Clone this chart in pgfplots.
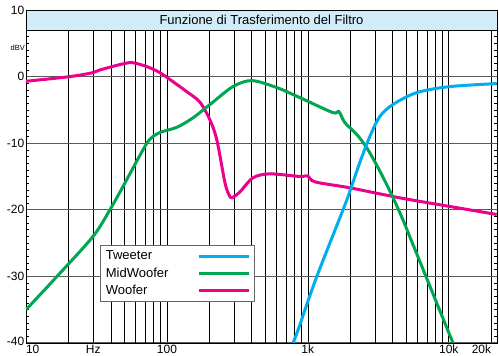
\documentclass[border=0pt]{standalone}
\usepackage{fontspec}
\setmainfont{Liberation Sans}
\usepackage{pgfplots}
\pgfplotsset{compat=1.18}
\definecolor{tw}{RGB}{0,174,239}
\definecolor{mw}{RGB}{0,166,81}
\definecolor{wf}{RGB}{236,0,140}
\definecolor{titlebg}{RGB}{211,236,249}
\begin{document}
\begin{tikzpicture}
\begin{axis}[
  at={(0,0)}, anchor=south west,
  width=471bp, height=333bp, scale only axis,
  xmode=log, log basis x=10,
  xmin=10, xmax=22000, ymin=-40, ymax=10,
  xtick={10,30,100,1000,10000,20000},
  xticklabels={\makebox[0pt][l]{10},Hz,100,1k,10k,\makebox[0pt][r]{20k}},
  minor xtick={20,40,50,60,70,80,90,200,300,400,500,600,700,800,900,
    2000,3000,4000,5000,6000,7000,8000,9000},
  ytick={-40,-30,-20,-10,0,10},
  yticklabels={\raisebox{3bp}{-40},-30,-20,-10,0,\raisebox{-4bp}{10}},
  minor y tick num=9,
  xtick pos=bottom,
  major tick length=0pt, minor tick length=3bp,
  tick align=inside,
  xmajorgrids, xminorgrids, ymajorgrids,
  major x grid style={black, line width=0.6bp},
  minor x grid style={black, line width=0.6bp},
  major y grid style={black!65, line width=1bp},
  axis line style={black, line width=0.9bp},
  tick style={black, line width=0.6bp},
  ticklabel style={font=\fontsize{12bp}{14bp}\selectfont},
  xticklabel style={inner sep=2bp},
  yticklabel style={inner sep=1.5bp},
  clip mode=individual,
  reverse legend,
  legend cell align=left,
  legend plot pos=right,
  legend image code/.code={\draw[#1, line width=3bp] (0bp,0bp) -- (43bp,0bp);
    \path (0bp,0bp) -- (50bp,0bp);},
  legend style={at={(0.157,0.2945)}, anchor=north west, draw=black!60, line width=0.8bp,
    fill=white, font=\fontsize{13bp}{15bp}\selectfont, row sep=2.5bp, inner sep=3.5bp},
]
\draw[fill=titlebg, line width=0.8bp] (rel axis cs:0,0.94) rectangle (rel axis cs:1,1);
\node[font=\fontsize{13bp}{15bp}\selectfont] at (rel axis cs:0.5,0.97) {Funzione di Trasferimento del Filtro};

\addplot[wf, line width=3bp, smooth, tension=0.5] coordinates {
(10,-0.7) (20.5,0) (29.9,0.6) (33.5,1.0) (46.4,1.8) (56.5,2.1) (72,1.5) (89,0.6)
(118,-1.2) (139,-2.3) (171,-3.8) (202,-6.5) (226,-9.5) (258,-15.9) (275,-17.7)
(289,-18.2) (330,-17.3) (408,-15.2) (537,-14.6) (877,-15.0) (1000,-14.9)
(1122,-15.8) (1987,-16.7) (4490,-18.2) (10170,-19.5) (21900,-20.7)};
\addlegendentry{\makebox[90bp][l]{Woofer}}

\addplot[mw, line width=3bp, smooth, tension=0.5] coordinates {
(10,-35) (16.6,-30) (29.9,-24) (39.4,-20) (48.8,-16.5) (67.6,-11) (75.7,-9.4)
(89,-8.4) (118,-7.6) (153,-6.2) (202,-4.2) (294,-1.5) (401,-0.6) (603,-1.65)
(877,-3.15) (1503,-5.4) (1660,-5.25) (1830,-6.9) (2227,-8.7) (2620,-10.7)
(3155,-13.7) (3930,-17.7) (4730,-21.5) (5520,-25) (6890,-30) (8590,-35) (10720,-40)};
\addlegendentry{\makebox[90bp][l]{MidWoofer}}

\addplot[tw, line width=3bp, smooth, tension=0.5] coordinates {
(787,-40) (877,-37.3) (984,-34.2) (1158,-30) (1503,-23.9) (1892,-18.5)
(2338,-12.9) (2754,-9) (3240,-6) (4010,-4.2) (5930,-2.4) (10170,-1.5) (21900,-1.05)};
\addlegendentry{\makebox[90bp][l]{Tweeter}}
\end{axis}
\node[anchor=east, inner sep=0pt, font=\fontsize{7.5bp}{8bp}\selectfont] at (-1bp,295bp) {dBV};
\pgfresetboundingbox
\useasboundingbox (-26bp,-13bp) rectangle (473bp,343bp);
\end{tikzpicture}
\end{document}
